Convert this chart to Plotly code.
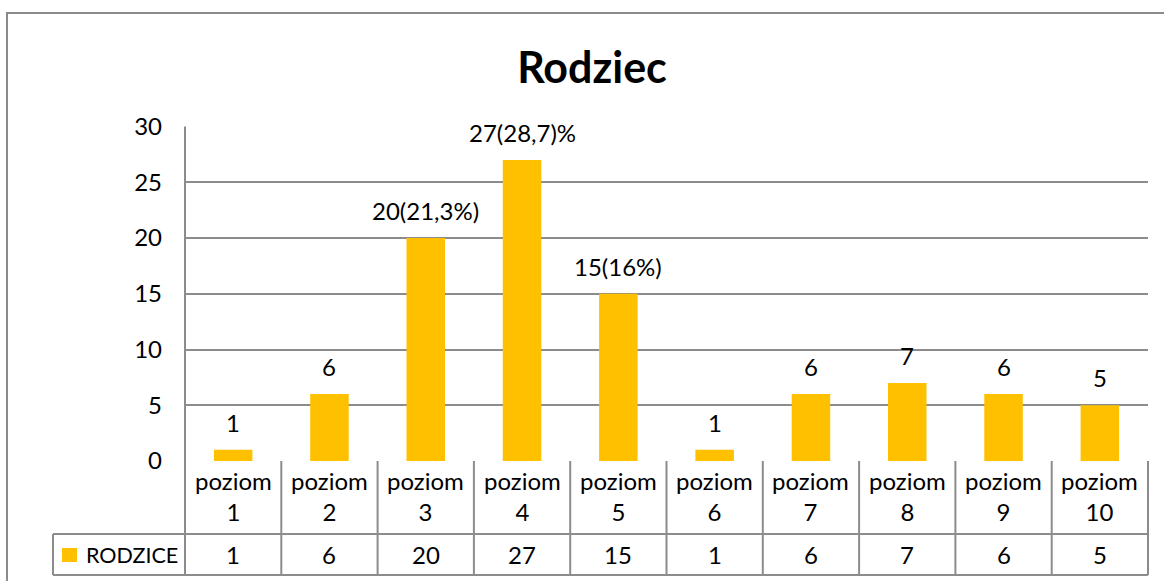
import plotly.graph_objects as go

categories = ["poziom 1", "poziom 2", "poziom 3", "poziom 4", "poziom 5",
              "poziom 6", "poziom 7", "poziom 8", "poziom 9", "poziom 10"]
values = [1, 6, 20, 27, 15, 1, 6, 7, 6, 5]
bar_labels = ["1", "6", "20(21,3%)", "27(28,7)%", "15(16%)", "1", "6", "7", "6", "5"]
series_name = "RODZICE"
title = "Rodziec"
y_ticks = [0, 5, 10, 15, 20, 25, 30]

W, H = 1164, 581
BAR = "#FFC000"
GRID = "#8c8c8c"
FONT = "Lato"
FS = 24

def px(x):
    return x / W

def py(y):
    return 1 - y / H

# layout geometry (pixels)
PL, PR, PT, PB = 185, 1148, 126.5, 461
ROW1_B, ROW2_B = 534, 575
LEG_L = 53

n = len(categories)
xs = list(range(n))

fig = go.Figure()
fig.add_trace(go.Bar(x=xs, y=values, marker=dict(color=BAR, line=dict(width=0)),
                     width=0.4, name=series_name, showlegend=False, hoverinfo="skip"))

annotations = []
for i, (v, lab) in enumerate(zip(values, bar_labels)):
    annotations.append(dict(x=i, y=v, xref="x", yref="y", text=lab, showarrow=False,
                            yanchor="bottom", yshift=11,
                            font=dict(family=FONT, size=FS, color="black")))

shapes = []
colw = (PR - PL) / n
for i, (c, v) in enumerate(zip(categories, values)):
    word, num = c.split(" ")
    annotations.append(dict(x=i, y=py((PB + ROW1_B) / 2 - 1.5), xref="x", yref="paper",
                            text=word + "<br>" + num, showarrow=False,
                            font=dict(family=FONT, size=FS, color="black"),
                            yanchor="middle"))
    annotations.append(dict(x=i, y=py((ROW1_B + ROW2_B) / 2), xref="x", yref="paper",
                            text=str(v), showarrow=False,
                            font=dict(family=FONT, size=FS, color="black"),
                            yanchor="middle"))

line = dict(color=GRID, width=2)
for k in range(n + 1):
    xk = PL + k * colw
    shapes.append(dict(type="line", xref="paper", yref="paper",
                       x0=px(xk), x1=px(xk), y0=py(PB), y1=py(ROW2_B), line=line))
shapes.append(dict(type="line", xref="paper", yref="paper", x0=px(LEG_L), x1=px(PR),
                   y0=py(ROW1_B), y1=py(ROW1_B), line=line))
shapes.append(dict(type="line", xref="paper", yref="paper", x0=px(LEG_L), x1=px(PR),
                   y0=py(ROW2_B), y1=py(ROW2_B), line=line))
shapes.append(dict(type="line", xref="paper", yref="paper", x0=px(LEG_L), x1=px(LEG_L),
                   y0=py(ROW1_B), y1=py(ROW2_B), line=line))
shapes.append(dict(type="line", xref="paper", yref="paper", x0=px(PL), x1=px(PL),
                   y0=py(PT), y1=py(PB), line=line))
shapes.append(dict(type="rect", xref="paper", yref="paper", x0=px(62), x1=px(77),
                   y0=py(562), y1=py(548), fillcolor=BAR, line=dict(width=0)))
annotations.append(dict(x=px(84), y=py((ROW1_B + ROW2_B) / 2), xref="paper", yref="paper",
                        text=series_name, showarrow=False, xanchor="left", yanchor="middle",
                        font=dict(family=FONT, size=21.5, color="black")))
# outer chart border
shapes.append(dict(type="rect", xref="paper", yref="paper", x0=px(7), x1=px(1175),
                   y0=py(600), y1=py(13), line=dict(color="#8a8a8a", width=2),
                   fillcolor="rgba(0,0,0,0)"))

fig.update_layout(
    template="none",
    width=W, height=H,
    margin=dict(l=0, r=0, t=0, b=0, pad=0, autoexpand=False),
    paper_bgcolor="white", plot_bgcolor="white",
    showlegend=False,
    title=dict(text="<b>" + title + "</b>", x=px(592), xanchor="center",
               y=py(68), yanchor="middle", automargin=False,
               font=dict(family=FONT, size=43, color="black")),
    xaxis=dict(domain=[px(PL), px(PR)], range=[-0.5, n - 0.5], showticklabels=False,
               showgrid=False, zeroline=False, showline=False, ticks="",
               automargin=False, fixedrange=True),
    yaxis=dict(domain=[py(PB), py(PT)], range=[0, 30], tickvals=y_ticks,
               showgrid=True, gridcolor=GRID, gridwidth=2, zeroline=False,
               showline=False, ticks="", ticklabelstandoff=22, automargin=False,
               tickfont=dict(family=FONT, size=FS, color="black"), fixedrange=True),
    annotations=annotations,
    shapes=shapes,
)

# remove the browser's default page margin so the figure sits at the window origin
js = "document.body.style.margin='0';document.body.style.overflow='hidden';"
fig.write_html("out.html", post_script=js, config={"displayModeBar": False})
